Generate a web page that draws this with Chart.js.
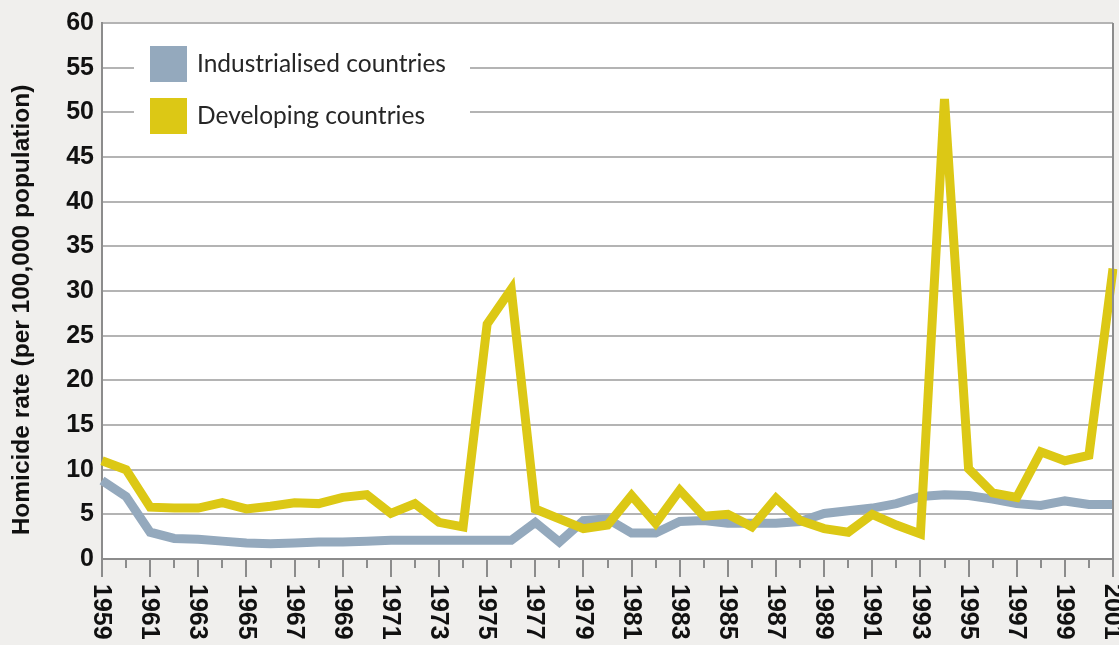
<!DOCTYPE html>
<html>
<head>
<meta charset="utf-8">
<script src="https://cdn.jsdelivr.net/npm/chart.js@4"></script>
<style>
  html, body { margin: 0; padding: 0; background: #f0efed; }
</style>
</head>
<body>
<canvas id="homicideChart" width="1119" height="645"></canvas>
<script>
const years = ["1959", "1960", "1961", "1962", "1963", "1964", "1965", "1966", "1967", "1968",
    "1969", "1970", "1971", "1972", "1973", "1974", "1975", "1976", "1977", "1978",
    "1979", "1980", "1981", "1982", "1983", "1984", "1985", "1986", "1987", "1988",
    "1989", "1990", "1991", "1992", "1993", "1994", "1995", "1996", "1997", "1998",
    "1999", "2000", "2001"];

const industrialised = [8.8, 7.0, 3.0, 2.3, 2.2, 2.0, 1.8, 1.7, 1.8, 1.9,
    1.9, 2.0, 2.1, 2.1, 2.1, 2.1, 2.1, 2.1, 4.1, 1.9,
    4.3, 4.5, 2.9, 2.9, 4.2, 4.3, 4.0, 4.0, 4.0, 4.2,
    5.1, 5.4, 5.7, 6.2, 7.0, 7.2, 7.1, 6.7, 6.2, 6.0,
    6.5, 6.1, 6.1];

const developing = [11.0, 10.0, 5.8, 5.7, 5.7, 6.3, 5.6, 5.9, 6.3, 6.2,
    6.9, 7.2, 5.1, 6.2, 4.1, 3.6, 26.3, 30.2, 5.6, 4.5,
    3.4, 3.8, 7.1, 4.0, 7.7, 4.8, 5.0, 3.6, 6.8, 4.3,
    3.4, 3.0, 5.0, 3.8, 2.8, 51.5, 10.1, 7.4, 6.9, 12.0,
    11.0, 11.6, 32.5];

const seriesNames = ["Industrialised countries", "Developing countries"];
const yTitle = "Homicide rate (per 100,000 population)";

const blue = "#94a9bd";
const yellow = "#dcc815";
const axisGrey = "#8c8c8c";
const gridGrey = "#b4b4b4";

// page background + white plot area
const backgroundPlugin = {
    id: "background",
    beforeDraw(chart) {
        const { ctx, chartArea: a } = chart;
        ctx.save();
        ctx.fillStyle = "#f0efed";
        ctx.fillRect(0, 0, chart.width, chart.height);
        ctx.fillStyle = "#ffffff";
        ctx.fillRect(a.left, a.top, a.right - a.left, a.bottom - a.top);
        ctx.restore();
    }
};

// legend sits inside the plot on a white patch over the grid
const legendPlugin = {
    id: "insideLegend",
    beforeDatasetsDraw(chart) {
        const { ctx, chartArea: a } = chart;
        ctx.save();
        ctx.fillStyle = "#ffffff";
        ctx.fillRect(a.left + 32, a.top + 10, 336, 115);
        ctx.font = '24.5px "Lato"';
        ctx.textBaseline = "middle";
        chart.data.datasets.forEach((ds, i) => {
            const cy = a.top + 41 + i * 52;
            ctx.fillStyle = ds.borderColor;
            ctx.fillRect(a.left + 48, cy - 18, 37, 36);
            ctx.fillStyle = "#262626";
            ctx.fillText(ds.label, a.left + 95, cy);
        });
        ctx.restore();
    }
};

// x ticks (long / short), labels rotated clockwise, right frame line, y title
const axisDecorPlugin = {
    id: "axisDecor",
    afterDraw(chart) {
        const { ctx, chartArea: a, scales: { x } } = chart;
        ctx.save();
        ctx.strokeStyle = axisGrey;
        ctx.lineWidth = 2;
        ctx.beginPath();
        ctx.moveTo(a.right, a.top);
        ctx.lineTo(a.right, a.bottom + 1);
        years.forEach((yr, i) => {
            const px = Math.round(x.getPixelForValue(i));
            ctx.moveTo(px, a.bottom);
            ctx.lineTo(px, a.bottom + (i % 2 === 0 ? 18 : 9));
        });
        ctx.stroke();

        ctx.fillStyle = "#111111";
        ctx.font = 'bold 25px "Liberation Sans"';
        ctx.textAlign = "left";
        ctx.textBaseline = "middle";
        years.forEach((yr, i) => {
            if (i % 2 !== 0) return;
            const px = x.getPixelForValue(i);
            ctx.save();
            ctx.translate(px, a.bottom + 25);
            ctx.rotate(Math.PI / 2);
            ctx.fillText(yr, 0, 1);
            ctx.restore();
        });

        // axis title sits a little below the middle of the plot
        ctx.font = 'bold 24.5px "Liberation Sans"';
        ctx.textAlign = "center";
        ctx.translate(22, 310);
        ctx.rotate(-Math.PI / 2);
        ctx.fillText(yTitle, 0, 0);
        ctx.restore();
    }
};

const ctx = document.getElementById("homicideChart").getContext("2d");

new Chart(ctx, {
    type: "line",
    data: {
        labels: years,
        datasets: [
            {
                label: seriesNames[0],
                data: industrialised,
                borderColor: blue,
                backgroundColor: blue,
                borderWidth: 9,
                pointRadius: 0,
                tension: 0,
                borderJoinStyle: "miter",
                order: 1
            },
            {
                label: seriesNames[1],
                data: developing,
                borderColor: yellow,
                backgroundColor: yellow,
                borderWidth: 9,
                pointRadius: 0,
                tension: 0,
                borderJoinStyle: "miter",
                order: 0
            }
        ]
    },
    options: {
        responsive: false,
        animation: false,
        layout: { padding: { top: 20, right: 6, left: 0, bottom: 0 } },
        plugins: {
            legend: { display: false },
            tooltip: { enabled: false }
        },
        scales: {
            x: {
                type: "category",
                offset: false,
                grid: { display: false },
                border: { display: true, color: axisGrey, width: 2 },
                ticks: { display: false },
                afterFit(scale) { scale.height = 86; }
            },
            y: {
                min: 0,
                max: 60,
                ticks: {
                    stepSize: 5,
                    padding: 8,
                    color: "#111111",
                    font: { family: '"Liberation Sans"', size: 25, weight: "bold" }
                },
                grid: { color: gridGrey, lineWidth: 2, drawTicks: false },
                border: { display: true, color: axisGrey, width: 2 },
                afterFit(scale) { scale.width = 102; }
            }
        }
    },
    plugins: [backgroundPlugin, legendPlugin, axisDecorPlugin]
});
</script>
</body>
</html>
